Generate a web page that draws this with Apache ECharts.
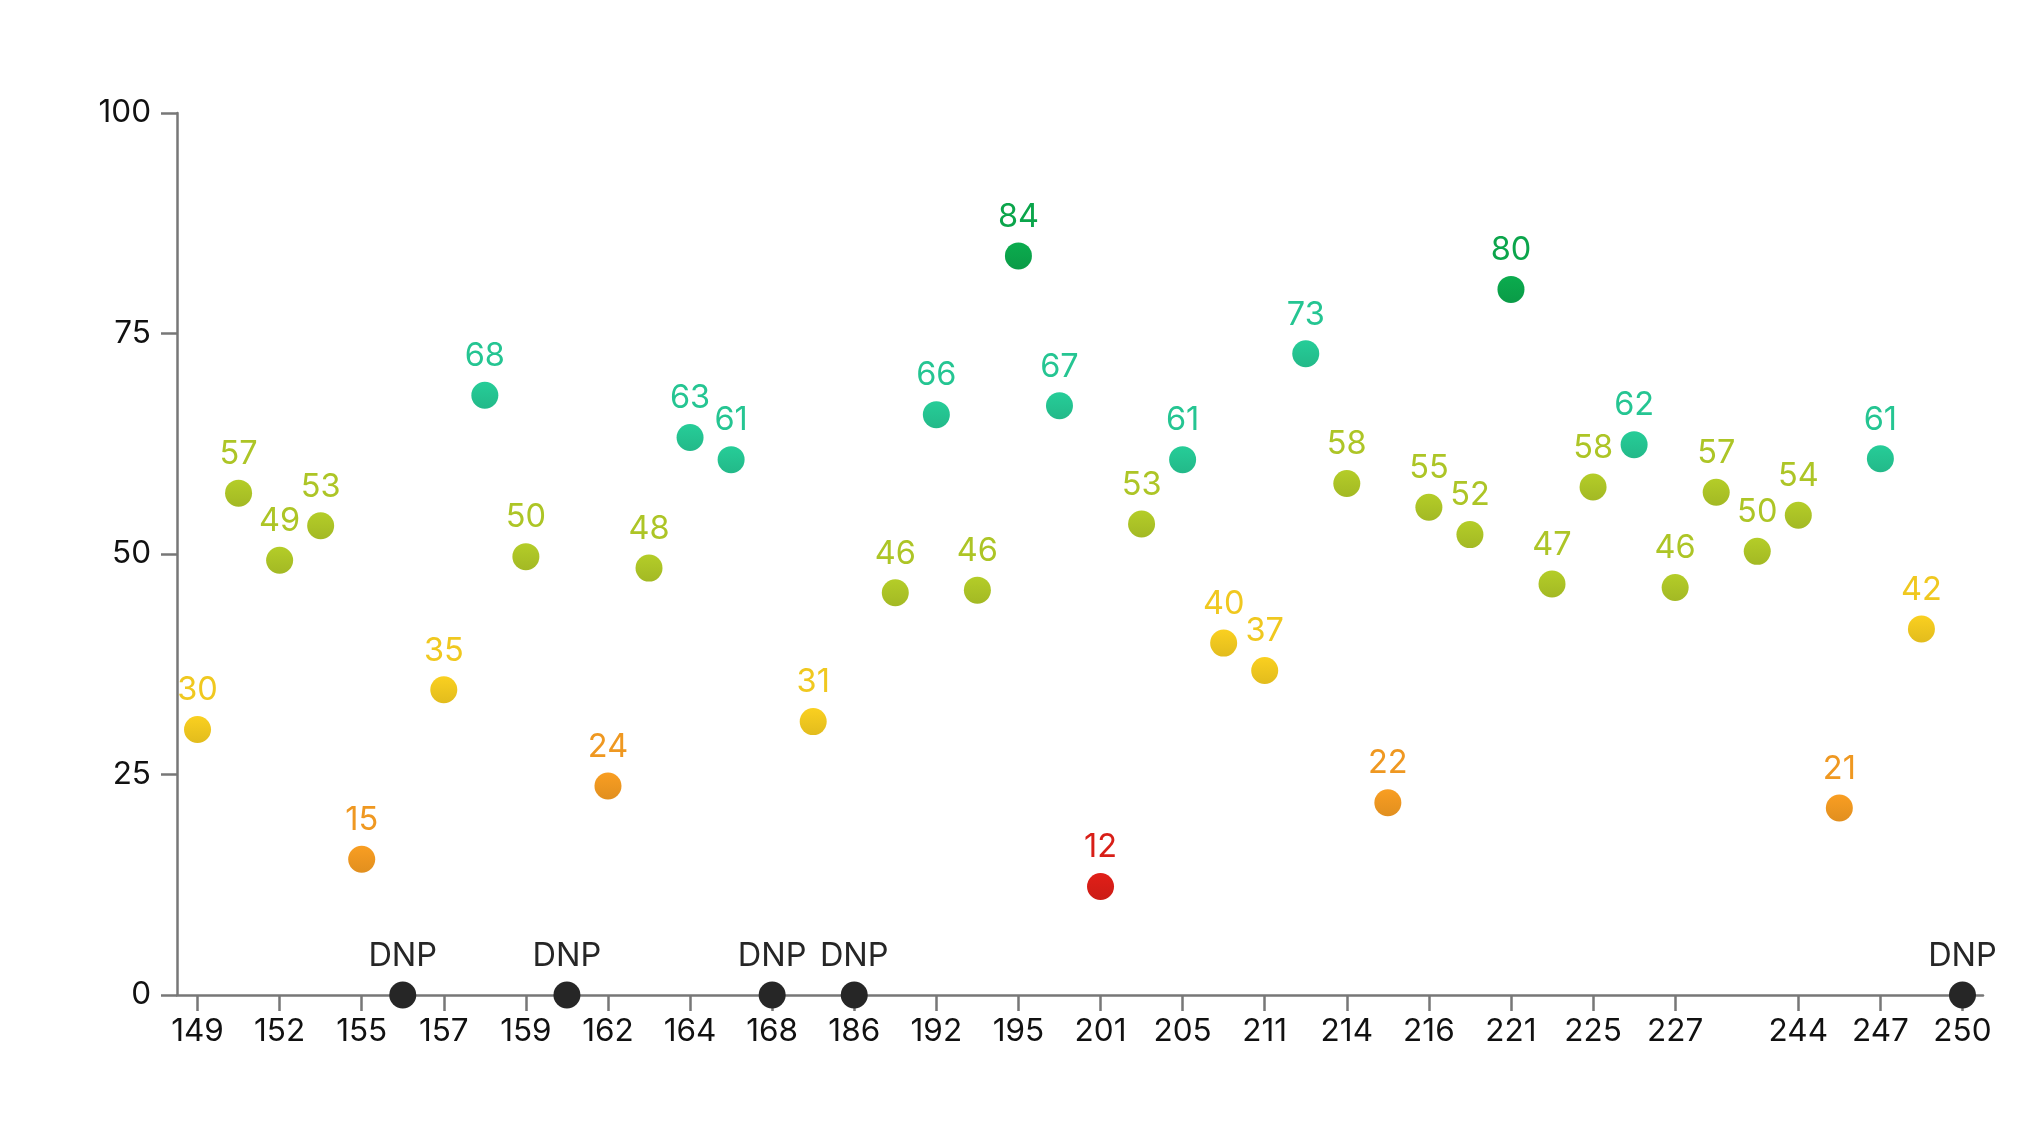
<!DOCTYPE html>
<html>
<head>
<meta charset="utf-8">
<script src="https://cdn.jsdelivr.net/npm/echarts@6/dist/echarts.min.js"></script>
<style>
html,body{margin:0;padding:0;background:#fff;}
#chart{width:2019px;height:1125px;}
</style>
</head>
<body>
<div id="chart"></div>
<script>
// Tick labels for each point (blank where the reference shows no tick)
const tickLabels = ['149','','152','','155','','157','','159','','162','','164','','168','','186','','192','','195','','201','','205','','211','','214','','216','','221','','225','','227','','','244','','247','','250'];
// Scores per point; null = DNP (did not play)
const scores = [30.1,56.9,49.3,53.2,15.4,null,34.6,68.0,49.7,null,23.7,48.4,63.2,60.7,null,31.0,null,45.6,65.8,45.9,83.8,66.8,12.3,53.4,60.7,39.9,36.8,72.7,58.0,21.8,55.3,52.2,80.0,46.6,57.6,62.4,46.2,57.0,50.3,54.4,21.2,60.8,41.5,null];
const yTicks = [0,25,50,75,100];
const dnpText = 'DNP';

const palette = {
  red:'#d81e17', orange:'#ef9821', yellow:'#f0c81f', yg:'#adc526', teal:'#25c592', green:'#0ba54b', dnp:'#262626'
};
function colorFor(v){
  if (v < 15) return palette.red;
  if (v < 30) return palette.orange;
  if (v < 45) return palette.yellow;
  if (v < 60) return palette.yg;
  if (v < 80) return palette.teal;
  return palette.green;
}
function shade(hex, f){
  const n = parseInt(hex.slice(1),16);
  let r=(n>>16)&255,g=(n>>8)&255,b=n&255;
  r=Math.min(255,Math.round(r*f));g=Math.min(255,Math.round(g*f));b=Math.min(255,Math.round(b*f));
  return 'rgb('+r+','+g+','+b+')';
}

const scored = [];
const dnp = [];
scores.forEach((v,i)=>{
  if (v === null) {
    dnp.push([i,0]);
  } else {
    const c = colorFor(v);
    scored.push({
      value:[i,v],
      itemStyle:{opacity:1,color:new echarts.graphic.LinearGradient(0,0,0,1,[{offset:0,color:shade(c,1.04)},{offset:1,color:shade(c,0.94)}])},
      label:{color:c}
    });
  }
});

const FONT = 'Inter, "Noto Sans", sans-serif';
const chart = echarts.init(document.getElementById('chart'), null, {renderer:'canvas'});
chart.setOption({
  animation:false,
  backgroundColor:'#ffffff',
  grid:{left:177,right:36,top:113,bottom:130,containLabel:false},
  xAxis:{
    type:'category',
    data:tickLabels,
    boundaryGap:true,
    axisLine:{show:true,onZero:false,lineStyle:{color:'#777777',width:2.5}},
    axisTick:{show:true,alignWithLabel:true,length:16,lineStyle:{color:'#777777',width:2.5},
      interval:function(idx,val){return val!=='';}},
    axisLabel:{show:true,margin:21,fontSize:31.5,fontFamily:FONT,color:'#111111',
      interval:function(idx,val){return val!=='';}},
    splitLine:{show:false}
  },
  yAxis:{
    type:'value',
    min:yTicks[0],max:yTicks[yTicks.length-1],interval:25,
    axisLine:{show:true,lineStyle:{color:'#777777',width:2.5}},
    axisTick:{show:true,length:16,lineStyle:{color:'#777777',width:2.5}},
    axisLabel:{margin:26,fontSize:31.5,fontFamily:FONT,color:'#111111'},
    splitLine:{show:false}
  },
  series:[
    {
      type:'scatter',
      data:scored,
      symbol:'circle',
      symbolSize:27,
      z:3,
      itemStyle:{opacity:1},
      label:{show:true,position:'top',distance:9,fontSize:32.5,fontFamily:FONT,
        formatter:function(p){return String(Math.round(p.value[1]));}}
    },
    {
      type:'scatter',
      data:dnp,
      symbol:'circle',
      symbolSize:27,
      z:4,
      clip:false,
      itemStyle:{color:palette.dnp,opacity:1},
      label:{show:true,position:'top',distance:9,fontSize:32.5,fontFamily:FONT,color:palette.dnp,
        formatter:function(){return dnpText;}}
    }
  ]
});
</script>
</body>
</html>
